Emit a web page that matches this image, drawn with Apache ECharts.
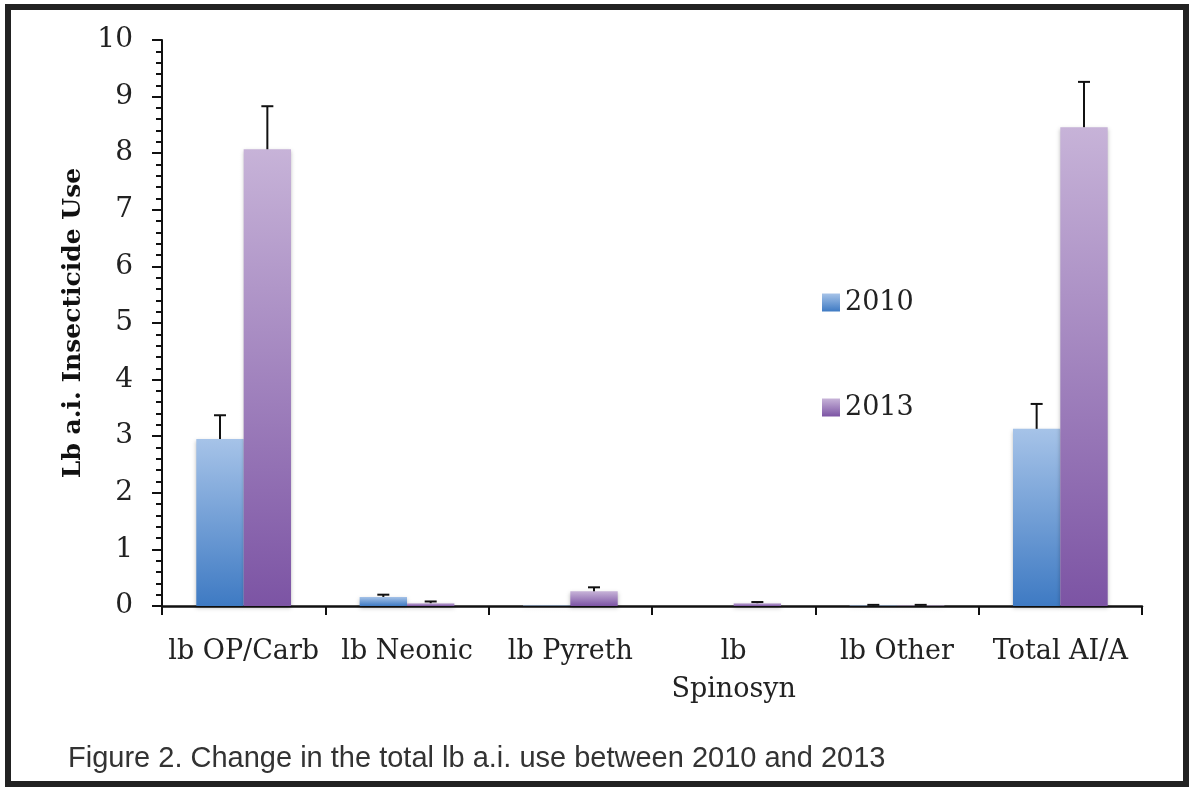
<!DOCTYPE html>
<html>
<head>
<meta charset="utf-8">
<script src="https://cdn.jsdelivr.net/npm/echarts@6/dist/echarts.min.js"></script>
<style>
  html, body { margin: 0; padding: 0; background: #fff; }
  #main { width: 1194px; height: 790px; }
</style>
</head>
<body>
<div id="main"></div>
<script>
// 类别和数据
var categories = ['lb OP/Carb', 'lb Neonic', 'lb Pyreth', 'lb\nSpinosyn', 'lb Other', 'Total AI/A'];
var val2010 = [2.95, 0.16, 0.01, 0, 0.01, 3.13];
var err2010 = [3.37, 0.2, 0.01, 0, 0.02, 3.57];
var val2013 = [8.07, 0.05, 0.26, 0.05, 0.01, 8.46];
var err2013 = [8.83, 0.08, 0.33, 0.07, 0.02, 9.26];
var yTicks = [0, 1, 2, 3, 4, 5, 6, 7, 8, 9, 10];

var serif = '"DejaVu Serif", "Liberation Serif", serif';
var chart = echarts.init(document.getElementById('main'));

function grad(top, bottom) {
    return new echarts.graphic.LinearGradient(0, 0, 0, 1, [
        { offset: 0, color: top },
        { offset: 1, color: bottom }
    ]);
}
var c2010 = grad('#a6c3e8', '#3e7ac3');
var c2013 = grad('#c7b3d8', '#7c54a4');

// 误差线
function errorSeries(vals, errs, side) {
    var data = vals.map(function(v, i) { return [i, v, errs[i]]; });
    return {
        type: 'custom',
        silent: true,
        z: 5,
        renderItem: function(params, api) {
            var band = api.size([1, 0])[0];
            var off = side * band * 0.145;
            var lo = api.coord([api.value(0), api.value(1)]);
            var hi = api.coord([api.value(0), api.value(2)]);
            var x = lo[0] + off;
            if (api.value(2) - api.value(1) <= 0) return;
            return {
                type: 'group',
                children: [
                    { type: 'line', shape: { x1: x, y1: lo[1], x2: x, y2: hi[1] }, style: { stroke: '#111', lineWidth: 2 } },
                    { type: 'line', shape: { x1: x - 6, y1: hi[1], x2: x + 6, y2: hi[1] }, style: { stroke: '#111', lineWidth: 2 } }
                ]
            };
        },
        data: data
    };
}

var option = {
    animation: false,
    backgroundColor: '#fff',
    grid: { left: 162, right: 52, top: 40, bottom: 184 },
    legend: {
        orient: 'vertical',
        left: 817,
        top: 284,
        itemWidth: 18,
        itemHeight: 18,
        itemGap: 78,
        icon: 'rect',
        textStyle: { fontFamily: serif, fontSize: 27, color: '#222' },
        data: ['2010', '2013']
    },
    xAxis: {
        type: 'category',
        data: categories,
        axisLine: { lineStyle: { color: '#111', width: 2.5 } },
        axisTick: { show: true, length: 9, lineStyle: { color: '#111', width: 2 } },
        axisLabel: { fontFamily: serif, fontSize: 27, color: '#222', margin: 27, lineHeight: 38, interval: 0 }
    },
    yAxis: {
        type: 'value',
        min: 0,
        max: 10,
        interval: 1,
        name: 'Lb a.i. Insecticide Use',
        nameLocation: 'middle',
        nameGap: 72,
        nameTextStyle: { fontFamily: serif, fontSize: 25, fontWeight: 'bold', color: '#111' },
        axisLine: { show: true, lineStyle: { color: '#111', width: 2 } },
        axisTick: { show: true, length: 10, lineStyle: { color: '#111', width: 2 } },
        minorTick: { show: true, splitNumber: 5, length: 6, lineStyle: { color: '#111', width: 2 } },
        splitLine: { show: false },
        axisLabel: {
            fontFamily: serif, fontSize: 28, color: '#222', margin: 29,
            formatter: function(v) { return yTicks.indexOf(v) >= 0 ? String(v) : ''; }
        }
    },
    series: [
        {
            name: '2010', type: 'bar', data: val2010,
            barGap: '0%', barCategoryGap: '42%',
            itemStyle: { color: c2010, shadowColor: 'rgba(0,0,0,0.25)', shadowBlur: 4, shadowOffsetY: 2 }
        },
        {
            name: '2013', type: 'bar', data: val2013,
            itemStyle: { color: c2013, shadowColor: 'rgba(0,0,0,0.25)', shadowBlur: 4, shadowOffsetY: 2 }
        },
        errorSeries(val2010, err2010, -1),
        errorSeries(val2013, err2013, 1)
    ],
    graphic: [
        {
            type: 'rect',
            shape: { x: 8, y: 7, width: 1178, height: 777 },
            style: { fill: 'none', stroke: '#222', lineWidth: 6 },
            silent: true
        },
        {
            type: 'text',
            left: 68,
            top: 744,
            style: {
                text: 'Figure 2. Change in the total lb a.i. use between 2010 and 2013',
                font: '29px "Liberation Sans", Arial, sans-serif',
                fill: '#333'
            }
        }
    ]
};
chart.setOption(option);
</script>
</body>
</html>
